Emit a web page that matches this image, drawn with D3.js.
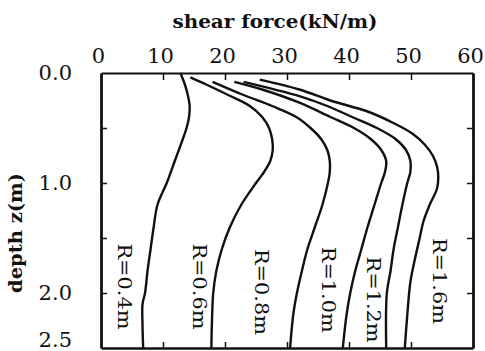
<!DOCTYPE html>
<html>
<head>
<meta charset="utf-8">
<script src="https://cdn.jsdelivr.net/npm/d3@7"></script>
<style>
  body { margin: 0; background: #fff; }
  svg { display: block; }
  text { font-family: "DejaVu Serif", serif; fill: #111; }
</style>
</head>
<body>
<div id="chart"></div>
<script>
// shear force (kN/m) vs depth z (m), one curve per pile radius R
const radii = ['R=0.4m', 'R=0.6m', 'R=0.8m', 'R=1.0m', 'R=1.2m', 'R=1.6m'];

// [depth z, shear force]
const curveR04 = [[0, 12.8], [0.1, 13.5], [0.2, 14.0], [0.3, 14.3], [0.4, 14.2], [0.5, 13.8], [0.6, 13.2],
  [0.8, 11.9], [1.0, 10.6], [1.2, 9.1], [1.4, 8.5], [1.6, 8.0], [1.8, 7.5], [2.0, 7.1], [2.1, 6.7], [2.3, 6.7], [2.5, 6.8]];
const curveR06 = [[0.04, 14.4], [0.1, 16.8], [0.2, 20.5], [0.3, 24.0], [0.4, 26.0], [0.5, 27.1], [0.6, 27.6],
  [0.7, 27.7], [0.8, 27.3], [0.9, 26.3], [1.0, 25.0], [1.2, 22.6], [1.4, 20.8], [1.6, 19.5], [1.8, 18.6],
  [2.0, 18.1], [2.25, 17.9], [2.5, 17.8]];
const curveR08 = [[0.08, 18.0], [0.2, 23.0], [0.3, 27.6], [0.4, 31.5], [0.5, 33.8], [0.6, 35.5], [0.7, 36.5],
  [0.8, 36.9], [0.9, 36.9], [1.0, 36.6], [1.2, 35.7], [1.4, 34.5], [1.6, 33.3], [1.8, 32.4], [2.0, 31.6],
  [2.2, 31.0], [2.5, 30.5]];
const curveR10 = [[0.08, 21.5], [0.15, 26.0], [0.27, 32.0], [0.4, 37.0], [0.5, 40.8], [0.6, 43.5], [0.7, 45.2],
  [0.8, 46.0], [0.9, 45.8], [1.0, 45.2], [1.2, 44.1], [1.4, 43.0], [1.6, 42.0], [1.8, 41.0], [2.0, 40.2],
  [2.2, 39.6], [2.5, 39.0]];
const curveR12 = [[0.08, 23.0], [0.21, 32.0], [0.3, 36.5], [0.4, 40.5], [0.5, 44.5], [0.6, 47.5], [0.7, 49.2],
  [0.8, 49.9], [0.9, 49.9], [1.0, 49.4], [1.2, 48.6], [1.4, 47.9], [1.6, 47.2], [1.8, 46.7], [2.0, 46.1], [2.5, 46.0]];
const curveR16 = [[0.06, 25.6], [0.15, 32.0], [0.25, 37.0], [0.35, 43.0], [0.45, 47.0], [0.55, 50.2], [0.65, 52.2],
  [0.75, 53.5], [0.85, 54.2], [0.95, 54.4], [1.05, 54.2], [1.2, 53.0], [1.35, 52.0], [1.5, 51.4], [1.7, 50.6],
  [1.9, 49.9], [2.2, 49.4], [2.5, 49.0]];

const xTicks = [0, 10, 20, 30, 40, 50, 60];
const yTicks = [0, 0.5, 1.0, 1.5, 2.0, 2.5];
const yTickLabels = ['0.0', '', '1.0', '', '2.0', '2.5'];

// label anchor for each curve, in data units [shear, depth]
const labelAt = [[3.9, 1.94], [16.0, 1.94], [26.0, 1.99], [36.8, 1.97], [44.1, 2.06], [54.6, 1.89]];

const width = 485;
const height = 351;
const margin = {top: 73, right: 12, bottom: 3, left: 101};
const plotW = width - margin.left - margin.right;
const plotH = height - margin.top - margin.bottom;

const svg = d3.select('#chart').append('svg')
  .attr('width', width)
  .attr('height', height);

const xScale = d3.scaleLinear().domain([0, 60]).range([0, plotW]);
const yScale = d3.scaleLinear().domain([0, 2.5]).range([0, plotH]);

const plot = svg.append('g')
  .attr('transform', `translate(${margin.left}, ${margin.top})`);

// axes
const styleAxis = (g, w) => {
  g.attr('font-family', null);
  g.select('.domain').attr('stroke', '#111').attr('stroke-width', w);
  g.selectAll('.tick line').attr('stroke', '#111').attr('stroke-width', 1.5);
  g.selectAll('.tick text')
    .style('font-family', '"DejaVu Serif", serif')
    .attr('font-size', 21)
    .attr('fill', '#111');
};

plot.append('g')
  .attr('class', 'x-axis-top')
  .call(d3.axisTop(xScale).tickValues(xTicks).tickSizeInner(-7).tickSizeOuter(0).tickPadding(10))
  .call(g => styleAxis(g, 2.2))
  .call(g => g.selectAll('.tick text').attr('dx', -3))
  .call(g => g.selectAll('.tick').filter(d => d === 0 || d === 60).select('line').remove());

plot.append('g')
  .attr('class', 'x-axis-bottom')
  .attr('transform', `translate(0, ${plotH})`)
  .call(d3.axisBottom(xScale).tickValues(xTicks.slice(1, -1)).tickSizeInner(-6).tickSizeOuter(0).tickFormat(''))
  .call(g => styleAxis(g, 2.5));

plot.append('g')
  .attr('class', 'y-axis-left')
  .call(d3.axisLeft(yScale).tickValues(yTicks).tickSizeInner(-6).tickSizeOuter(0).tickPadding(29)
    .tickFormat((d, i) => yTickLabels[i]))
  .call(g => styleAxis(g, 2.8))
  .call(g => g.selectAll('.tick').filter(d => d === 0 || d === 2.5).select('line').remove())
  .call(g => g.selectAll('.tick').filter(d => d === 2.5).select('text').attr('dy', '-0.05em'));

plot.append('g')
  .attr('class', 'y-axis-right')
  .attr('transform', `translate(${plotW}, 0)`)
  .call(d3.axisRight(yScale).tickValues(yTicks.slice(1, -1)).tickSizeInner(-6).tickSizeOuter(0).tickFormat(''))
  .call(g => styleAxis(g, 2.8));

// curves
const curves = [curveR04, curveR06, curveR08, curveR10, curveR12, curveR16];
const line = d3.line()
  .x(d => xScale(d[1]))
  .y(d => yScale(d[0]))
  .curve(d3.curveCatmullRom.alpha(0.5));

plot.selectAll('.curve')
  .data(curves)
  .join('path')
    .attr('class', 'curve')
    .attr('d', line)
    .attr('fill', 'none')
    .attr('stroke', '#111')
    .attr('stroke-width', 2.4)
    .attr('stroke-linejoin', 'round');

plot.selectAll('.r-label')
  .data(radii)
  .join('text')
    .attr('class', 'r-label')
    .attr('transform', (d, i) => `translate(${xScale(labelAt[i][0])}, ${yScale(labelAt[i][1])}) rotate(90)`)
    .attr('text-anchor', 'middle')
    .attr('dominant-baseline', 'central')
    .attr('font-size', 19)
    .attr('textLength', 86)
    .attr('lengthAdjust', 'spacingAndGlyphs')
    .text(d => d);

// titles
svg.append('text')
  .attr('x', 275)
  .attr('y', 28)
  .attr('text-anchor', 'middle')
  .attr('font-size', 18)
  .attr('font-weight', 'bold')
  .attr('textLength', 205)
  .attr('lengthAdjust', 'spacingAndGlyphs')
  .text('shear force(kN/m)');

svg.append('text')
  .attr('transform', 'translate(15, 233) rotate(-90)')
  .attr('text-anchor', 'middle')
  .attr('dominant-baseline', 'central')
  .attr('font-size', 18)
  .attr('font-weight', 'bold')
  .attr('textLength', 120)
  .attr('lengthAdjust', 'spacingAndGlyphs')
  .text('depth z(m)');
</script>
</body>
</html>
